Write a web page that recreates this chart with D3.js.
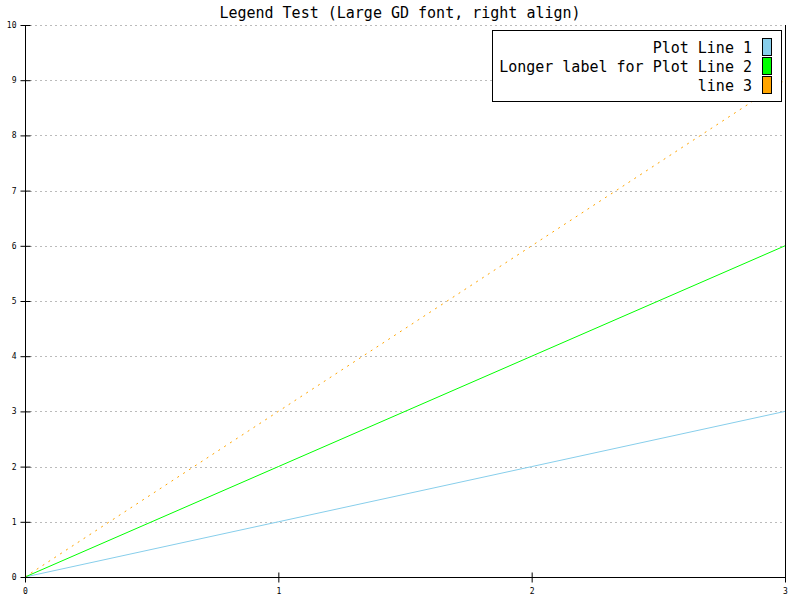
<!DOCTYPE html>
<html><head><meta charset="utf-8">
<script src="https://cdn.jsdelivr.net/npm/d3@7"></script>
<style>body{margin:0;background:#fff}</style>
</head><body>
<svg id="c" width="800" height="600"></svg>
<script>
const xValues = [0, 1, 2, 3];
const line1 = [0, 1, 2, 3];
const line2 = [0, 2, 4, 6];
const line3 = [0, 3, 6, 9];
const seriesNames = ["Plot Line 1", "Longer label for Plot Line 2", "line 3"];
const seriesColors = ["#87ceeb", "#00ff00", "#ffa500"];
const xTicks = [0, 1, 2, 3];
const yTicks = [0, 1, 2, 3, 4, 5, 6, 7, 8, 9, 10];
const title = "Legend Test (Large GD font, right align)";

const svg = d3.select("#c");
const mono = "'DejaVu Sans Mono', 'Liberation Mono', monospace";
const x = d3.scaleLinear().domain([0, 3]).range([25, 785]);
const y = d3.scaleLinear().domain([0, 10]).range([577, 25]);

svg.append("rect").attr("width", 800).attr("height", 600).attr("fill", "#fff");

// grid
svg.append("g").selectAll("line").data(yTicks.filter(d => d > 0)).join("line")
  .attr("x1", 25).attr("x2", 785)
  .attr("y1", d => y(d) + 0.5).attr("y2", d => y(d) + 0.5)
  .attr("stroke", "#bbbbbb").attr("stroke-dasharray", "2,3").attr("shape-rendering", "crispEdges");

// lines
const allSeries = [line1, line2, line3];
const lineGen = d3.line().x((d, i) => x(xValues[i])).y(d => y(d));
allSeries.forEach((s, k) => {
  svg.append("path").datum(s).attr("d", lineGen)
    .attr("fill", "none").attr("stroke", seriesColors[k]).attr("stroke-width", 1)
    .attr("stroke-dasharray", k === 2 ? "2,5" : null);
});

// axes
const yAxis = d3.axisLeft(y).tickValues(yTicks).tickSize(5).tickFormat(d3.format("d"));
const gy = svg.append("g").attr("transform", "translate(25.5,0)").call(yAxis);
const xAxis = d3.axisBottom(x).tickValues(xTicks).tickSize(5).tickFormat(d3.format("d"));
const gx = svg.append("g").attr("transform", "translate(0,577.5)").call(xAxis);
[gx, gy].forEach(g => {
  g.select(".domain").remove();
  g.selectAll("text").attr("font-family", mono).attr("font-size", 8).attr("fill", "#000");
});
gy.selectAll(".tick line").attr("x1", 5).attr("x2", -5).attr("stroke", "#000");
gy.selectAll(".tick text").attr("x", -9);
gx.selectAll(".tick line").attr("y1", -5).attr("y2", 5).attr("stroke", "#000");
gx.selectAll(".tick text").attr("y", 11);

svg.append("line").attr("x1", 25.5).attr("x2", 25.5).attr("y1", 25).attr("y2", 577).attr("stroke", "#000");
svg.append("line").attr("x1", 785.5).attr("x2", 785.5).attr("y1", 25).attr("y2", 577).attr("stroke", "#000");
svg.append("line").attr("x1", 25).attr("x2", 786).attr("y1", 577.5).attr("y2", 577.5).attr("stroke", "#000");

// title
svg.append("text").attr("x", 400).attr("y", 18).attr("text-anchor", "middle")
  .attr("font-family", mono).attr("font-size", 15).attr("fill", "#000").text(title);

// legend
const lg = svg.append("g");
lg.append("rect").attr("x", 492.5).attr("y", 30.5).attr("width", 289).attr("height", 71)
  .attr("fill", "#fff").attr("stroke", "#000");
seriesNames.forEach((n, i) => {
  lg.append("rect").attr("x", 762.5).attr("y", 38.5 + i * 19).attr("width", 9).attr("height", 17)
    .attr("fill", seriesColors[i]).attr("stroke", "#000");
  lg.append("text").attr("x", 752).attr("y", 53 + i * 19).attr("text-anchor", "end")
    .attr("font-family", mono).attr("font-size", 15).attr("fill", "#000").text(n);
});
</script>
</body></html>
